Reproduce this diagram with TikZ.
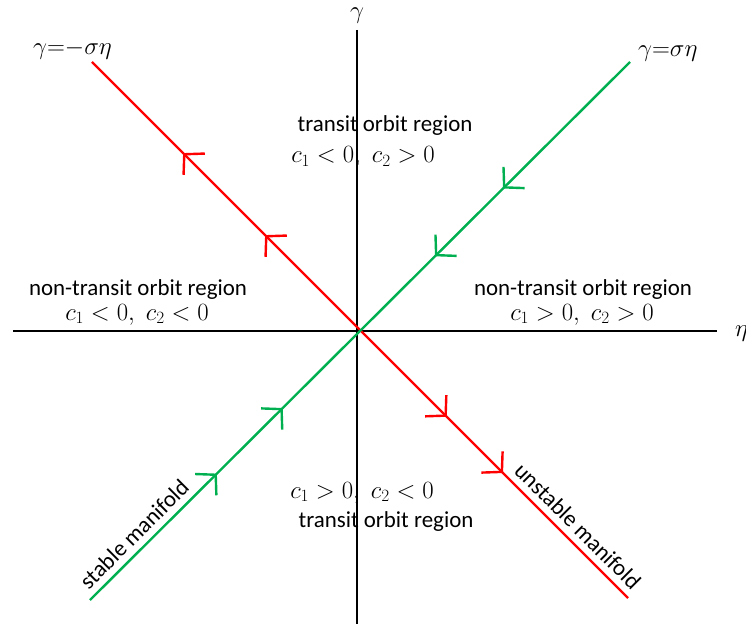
\documentclass[tikz,border=0pt]{standalone}
\usepackage{fontspec}
\setmainfont{Carlito}
\usepackage{tikz}
\usetikzlibrary{arrows.meta,decorations.markings}
\usepackage{xcolor}
\definecolor{manired}{RGB}{255,0,0}
\definecolor{manigreen}{RGB}{0,176,80}

\tikzset{
    axisline/.style={line width=2.2bp, black},
    maniline/.style={line width=2.4bp},
    chev/.tip={Straight Barb[length=14bp, width=30bp]},
    lbl/.style={font=\fontsize{23}{27}\selectfont, inner sep=0pt, anchor=base},
}

\begin{document}
\begin{tikzpicture}[x=1bp, y=-1bp]
    \useasboundingbox (0,0) rectangle (746,628);

    % Points
    \coordinate (O)  at (357,330);
    \coordinate (xl) at (13,331);
    \coordinate (xr) at (717,331);
    \coordinate (yt) at (357,30);
    \coordinate (yb) at (357,624);
    \coordinate (rs) at (92,62);
    \coordinate (re) at (628,598);
    \coordinate (gs) at (90,600);
    \coordinate (ge) at (630,62);

    % Axes
    \draw[axisline] (xl) -- (xr);
    \draw[axisline] (yt) -- (yb);
    \node[lbl] (gammalab) at (357,19) {$\gamma$};
    \node[lbl, anchor=base west] (etalab) at (735,336) {$\eta$};

    % Unstable manifold
    \draw[maniline, manired, postaction={decorate, decoration={markings,
            mark=at position 0.170 with {\arrowreversed[manired]{chev}},
            mark=at position 0.323 with {\arrowreversed[manired]{chev}},
            mark=at position 0.662 with {\arrow[manired]{chev}},
            mark=at position 0.767 with {\arrow[manired]{chev}}}}]
        (rs) -- node (unstab)[pos=0.886, sloped, above=3bp, font=\fontsize{23}{27}\selectfont, text=black] {unstable manifold} (re);

    % Stable manifold
    \draw[maniline, manigreen, postaction={decorate, decoration={markings,
            mark=at position 0.235 with {\arrow[manigreen]{chev}},
            mark=at position 0.357 with {\arrow[manigreen]{chev}},
            mark=at position 0.639 with {\arrowreversed[manigreen]{chev}},
            mark=at position 0.765 with {\arrowreversed[manigreen]{chev}}}}]
        (gs) -- node (stab)[pos=0.102, sloped, above=3bp, font=\fontsize{23}{27}\selectfont, text=black] {stable manifold} (ge);

    % Line labels
    \node[lbl, anchor=base west] (rlab) at (33,55) {$\gamma{=}{-}\sigma\eta$};
    \node[lbl, anchor=base west] (glab) at (638,57) {$\gamma{=}\sigma\eta$};

    % Regions
    \node[lbl] (topname) at (385,132) {transit orbit region};
    \node[lbl] (topsign) at (363,163) {$c_1<0,\; c_2>0$};
    \node[lbl] (leftname) at (138,295) {non-transit orbit region};
    \node[lbl] (leftsign) at (137,320) {$c_1<0,\; c_2<0$};
    \node[lbl] (rightname) at (583,295) {non-transit orbit region};
    \node[lbl] (rightsign) at (582,320) {$c_1>0,\; c_2>0$};
    \node[lbl] (botsign) at (362,498) {$c_1>0,\; c_2<0$};
    \node[lbl] (botname) at (386,527) {transit orbit region};
\end{tikzpicture}
\end{document}
